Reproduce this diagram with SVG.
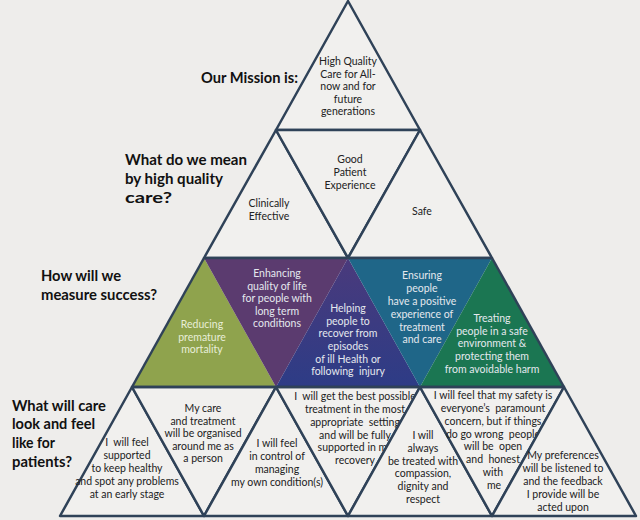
<svg xmlns="http://www.w3.org/2000/svg" width="640" height="520" viewBox="0 0 640 520">
<defs>
<linearGradient id="gRecover" x1="0" y1="0" x2="0" y2="1">
<stop offset="0" stop-color="#4a3a7c"/>
<stop offset="1" stop-color="#2d3c86"/>
</linearGradient>
<style>
.bg{fill:#eeedeb}
.tri{fill:#f1f0ee;stroke:#2f4258;stroke-width:2.5;stroke-linejoin:round}
.col{stroke:none}
.frame{fill:none;stroke:#2f4258;stroke-width:2.5;stroke-linejoin:round}
.h{font-family:Lato,"Liberation Sans",sans-serif;font-weight:bold;font-size:16px;fill:#111}
.t{font-family:Lato,"Liberation Sans",sans-serif;font-size:10.5px;fill:#222;text-anchor:middle}
.w{font-family:Lato,"Liberation Sans",sans-serif;font-size:10.5px;fill:#e4e8ee;text-anchor:middle}
.wg{fill:#e8eed8}
</style>
</defs>
<rect class="bg" x="0" y="0" width="640" height="520"/>

<g id="headings">
<text class="h" x="201" y="83" textLength="97" lengthAdjust="spacingAndGlyphs">Our Mission is:</text>
<text class="h" x="125" y="165" textLength="122" lengthAdjust="spacingAndGlyphs">What do we mean</text>
<text class="h" x="125" y="184" textLength="98" lengthAdjust="spacingAndGlyphs">by high quality</text>
<text class="h" x="125" y="203" textLength="47" lengthAdjust="spacingAndGlyphs">care?</text>
<text class="h" x="41" y="281" textLength="80" lengthAdjust="spacingAndGlyphs">How will we</text>
<text class="h" x="41" y="300" textLength="116" lengthAdjust="spacingAndGlyphs">measure success?</text>
<text class="h" x="12" y="411" textLength="94" lengthAdjust="spacingAndGlyphs">What will care</text>
<text class="h" x="12" y="429" textLength="83" lengthAdjust="spacingAndGlyphs">look and feel</text>
<text class="h" x="12" y="448" textLength="43" lengthAdjust="spacingAndGlyphs">like for</text>
<text class="h" x="12" y="467" textLength="60" lengthAdjust="spacingAndGlyphs">patients?</text>
</g>

<g id="mission">
<polygon class="tri" points="348,1 276,130 420,130"/>
<text class="t" x="348" y="65">High Quality</text>
<text class="t" x="348" y="77.5">Care for All-</text>
<text class="t" x="348" y="90">now and for</text>
<text class="t" x="348" y="102.5">future</text>
<text class="t" x="348" y="115">generations</text>
</g>

<g id="clinically-effective">
<polygon class="tri" points="276,130 204,258 348,258"/>
<text class="t" x="269" y="207">Clinically</text>
<text class="t" x="269" y="220">Effective</text>
</g>
<g id="good-patient-experience">
<polygon class="tri" points="276,130 420,130 348,258"/>
<text class="t" x="350" y="163">Good</text>
<text class="t" x="350" y="176">Patient</text>
<text class="t" x="350" y="189">Experience</text>
</g>
<g id="safe">
<polygon class="tri" points="420,130 348,258 492,258"/>
<text class="t" x="422" y="215">Safe</text>
</g>

<g id="reducing-mortality">
<polygon class="col" fill="#8fa34d" points="204,258 132,387 276,387"/>
<text class="w wg" x="202" y="328">Reducing</text>
<text class="w wg" x="202" y="341">premature</text>
<text class="w wg" x="202" y="353">mortality</text>
</g>
<g id="quality-of-life">
<polygon class="col" fill="#5b3b6f" points="204,258 348,258 276,387"/>
<text class="w" x="277" y="277">Enhancing</text>
<text class="w" x="277" y="289.5">quality of life</text>
<text class="w" x="277" y="302">for people with</text>
<text class="w" x="277" y="314.5">long term</text>
<text class="w" x="277" y="327">conditions</text>
</g>
<g id="helping-recover">
<polygon class="col" fill="url(#gRecover)" points="348,258 276,387 420,387"/>
<text class="w" x="348" y="312">Helping</text>
<text class="w" x="348" y="324.5">people to</text>
<text class="w" x="348" y="337">recover from</text>
<text class="w" x="348" y="350">episodes</text>
<text class="w" x="348" y="362.5">of ill Health or</text>
<text class="w" x="348" y="375" xml:space="preserve">following  injury</text>
</g>
<g id="positive-experience">
<polygon class="col" fill="#1f6688" points="348,258 492,258 420,387"/>
<text class="w" x="422" y="279">Ensuring</text>
<text class="w" x="422" y="292">people</text>
<text class="w" x="422" y="305">have a positive</text>
<text class="w" x="422" y="318">experience of</text>
<text class="w" x="422" y="330.5">treatment</text>
<text class="w" x="422" y="343">and care</text>
</g>
<g id="safe-environment">
<polygon class="col" fill="#1b7652" points="492,258 420,387 564,387"/>
<text class="w" x="492" y="322">Treating</text>
<text class="w" x="492" y="334.5">people in a safe</text>
<text class="w" x="492" y="347">environment &amp;</text>
<text class="w" x="492" y="360">protecting them</text>
<text class="w" x="492" y="372.5">from avoidable harm</text>
</g>

<g id="supported-healthy">
<polygon class="tri" points="132,387 60,516 204,516"/>
<text class="t" x="127" y="446" xml:space="preserve">I  will feel</text>
<text class="t" x="127" y="459">supported</text>
<text class="t" x="127" y="472">to keep healthy</text>
<text class="t" x="127" y="485">and spot any problems</text>
<text class="t" x="127" y="498">at an early stage</text>
</g>
<g id="organised-around-me">
<polygon class="tri" points="132,387 276,387 204,516"/>
<text class="t" x="203" y="412">My care</text>
<text class="t" x="203" y="424.5">and treatment</text>
<text class="t" x="203" y="437">will be organised</text>
<text class="t" x="203" y="449.5">around me as</text>
<text class="t" x="203" y="462">a person</text>
</g>
<g id="in-control">
<polygon class="tri" points="276,387 204,516 348,516"/>
<text class="t" x="277" y="447">I will feel</text>
<text class="t" x="277" y="460">in control of</text>
<text class="t" x="277" y="473">managing</text>
<text class="t" x="277" y="485.5">my own condition(s)</text>
</g>
<g id="best-treatment">
<polygon class="tri" points="276,387 420,387 348,516"/>
<text class="t" x="355" y="400" xml:space="preserve">I  will get the best possible</text>
<text class="t" x="355" y="413">treatment in the most</text>
<text class="t" x="355" y="426" xml:space="preserve">appropriate  setting</text>
<text class="t" x="355" y="438.5">and will be fully</text>
<text class="t" x="355" y="451">supported in my</text>
<text class="t" x="355" y="464">recovery</text>
</g>
<g id="compassion">
<polygon class="tri" points="420,387 348,516 492,516"/>
<text class="t" x="423" y="439">I will</text>
<text class="t" x="423" y="452">always</text>
<text class="t" x="423" y="464.5">be treated with</text>
<text class="t" x="423" y="477">compassion,</text>
<text class="t" x="423" y="490">dignity and</text>
<text class="t" x="423" y="502.5">respect</text>
</g>
<g id="safety-concern">
<polygon class="tri" points="420,387 564,387 492,516"/>
<text class="t" x="493" y="399">I will feel that my safety is</text>
<text class="t" x="493" y="412" xml:space="preserve">everyone’s  paramount</text>
<text class="t" x="493" y="425">concern, but if things</text>
<text class="t" x="493" y="437.5" xml:space="preserve">do go wrong  people</text>
<text class="t" x="493" y="450" xml:space="preserve">will be  open</text>
<text class="t" x="493" y="463" xml:space="preserve">and  honest</text>
<text class="t" x="493" y="476">with</text>
<text class="t" x="494" y="489">me</text>
</g>
<g id="preferences">
<polygon class="tri" points="564,387 492,516 636,516"/>
<text class="t" x="563" y="459">My preferences</text>
<text class="t" x="563" y="472">will be listened to</text>
<text class="t" x="563" y="485">and the feedback</text>
<text class="t" x="563" y="498">I provide will be</text>
<text class="t" x="563" y="510.5">acted upon</text>
</g>

<g id="connectors">
<polyline class="frame" points="204,258 132,387"/>
<polyline class="frame" points="492,258 564,387"/>
<line class="frame" x1="204" y1="258" x2="492" y2="258"/>
<line class="frame" x1="132" y1="387" x2="564" y2="387"/>
</g>
</svg>
